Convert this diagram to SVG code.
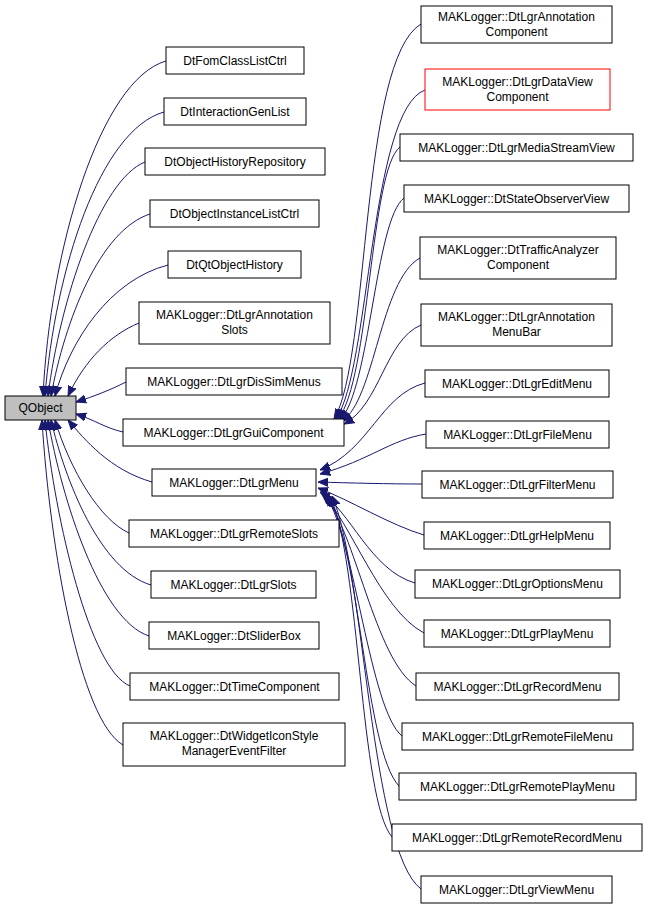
<svg xmlns="http://www.w3.org/2000/svg" width="648" height="908" viewBox="0 0 648 908">
<style>
.n rect{fill:#fff;stroke:#000;stroke-width:1}
.n text{font-family:"Liberation Sans",Arial,sans-serif;font-size:12px;text-anchor:middle;fill:#000}
#edges path{fill:none;stroke:#191970;stroke-width:1}
</style>
<defs>
<marker id="a" viewBox="0 0 10 10" refX="10" refY="5" markerWidth="10" markerHeight="10" markerUnits="userSpaceOnUse" orient="auto">
<path d="M0,1 L10,5 L0,9 Z" fill="#191970" stroke="#191970"/>
</marker>
</defs>
<rect width="648" height="908" fill="#fff"/>
<g id="edges" marker-end="url(#a)">
<path d="M166,61 C100,80 50,250 43,396"/>
<path d="M164,112 C100,130 55,270 45,396"/>
<path d="M145,162 C100,180 60,300 48,396"/>
<path d="M150,214 C100,230 65,320 51,396"/>
<path d="M168,265 C110,280 70,340 55,396"/>
<path d="M139,323 C110,335 85,360 68,396"/>
<path d="M126,382 C110,390 95,396 76,402"/>
<path d="M123,432 C105,428 95,420 76,414"/>
<path d="M152,482 C110,470 85,440 68,420"/>
<path d="M129,533 C100,520 70,470 55,420"/>
<path d="M151,585 C100,570 65,480 51,420"/>
<path d="M149,636 C100,620 62,500 48,420"/>
<path d="M130,686 C90,670 55,520 45,420"/>
<path d="M123,745 C80,720 50,550 42,420"/>
<path d="M421,24 C360,60 370,360 334,419"/>
<path d="M425,90 C370,110 370,370 336,419"/>
<path d="M400,147 C370,170 370,380 338,419"/>
<path d="M404,198 C375,220 370,390 340,420"/>
<path d="M420,258 C380,280 375,400 342,421"/>
<path d="M421,325 C385,340 380,405 344,424"/>
<path d="M425,383 C380,395 370,450 320,470"/>
<path d="M426,434 C390,440 370,460 320,474"/>
<path d="M422,484 C390,484 350,483 318,482"/>
<path d="M424,535 C390,525 350,500 318,488"/>
<path d="M415,583 C370,570 350,510 320,492"/>
<path d="M424,633 C380,610 350,520 322,494"/>
<path d="M416,686 C375,660 355,530 324,495"/>
<path d="M402,736 C370,710 355,540 326,496"/>
<path d="M399,786 C365,750 360,550 328,496"/>
<path d="M392,837 C360,800 360,560 330,496"/>
<path d="M421,889 C370,850 365,570 332,496"/>
</g>
<g id="QObject" class="n"><rect x="5" y="396" width="71" height="24" style="fill:#bfbfbf"/><text x="40.5" y="412">QObject</text></g>
<g id="m1" class="n"><rect x="166" y="47" width="138" height="27"/><text x="235" y="65">DtFomClassListCtrl</text></g>
<g id="m2" class="n"><rect x="164" y="98" width="142" height="27"/><text x="235" y="116">DtInteractionGenList</text></g>
<g id="m3" class="n"><rect x="145" y="148" width="180" height="27"/><text x="235" y="166">DtObjectHistoryRepository</text></g>
<g id="m4" class="n"><rect x="150" y="200" width="169" height="27"/><text x="234.5" y="218">DtObjectInstanceListCtrl</text></g>
<g id="m5" class="n"><rect x="168" y="251" width="133" height="27"/><text x="234.5" y="269">DtQtObjectHistory</text></g>
<g id="m6" class="n"><rect x="139" y="302" width="191" height="42"/><text x="234.5" y="319">MAKLogger::DtLgrAnnotation</text><text x="234.5" y="334">Slots</text></g>
<g id="m7" class="n"><rect x="126" y="368" width="216" height="27"/><text x="234" y="386">MAKLogger::DtLgrDisSimMenus</text></g>
<g id="m8" class="n"><rect x="123" y="419" width="221" height="27"/><text x="233.5" y="437">MAKLogger::DtLgrGuiComponent</text></g>
<g id="m9" class="n"><rect x="152" y="469" width="164" height="27"/><text x="234" y="487">MAKLogger::DtLgrMenu</text></g>
<g id="m10" class="n"><rect x="129" y="520" width="210" height="27"/><text x="234" y="538">MAKLogger::DtLgrRemoteSlots</text></g>
<g id="m11" class="n"><rect x="151" y="571" width="165" height="27"/><text x="233.5" y="589">MAKLogger::DtLgrSlots</text></g>
<g id="m12" class="n"><rect x="149" y="622" width="170" height="27"/><text x="234" y="640">MAKLogger::DtSliderBox</text></g>
<g id="m13" class="n"><rect x="130" y="673" width="209" height="27"/><text x="234.5" y="691">MAKLogger::DtTimeComponent</text></g>
<g id="m14" class="n"><rect x="123" y="723" width="222" height="43"/><text x="234" y="740">MAKLogger::DtWidgetIconStyle</text><text x="234" y="755">ManagerEventFilter</text></g>
<g id="r1" class="n"><rect x="421" y="6" width="191" height="37"/><text x="516.5" y="21">MAKLogger::DtLgrAnnotation</text><text x="516.5" y="36">Component</text></g>
<g id="r2" class="n"><rect x="425" y="69" width="185" height="41" style="stroke:#f00"/><text x="517.5" y="86">MAKLogger::DtLgrDataView</text><text x="517.5" y="101">Component</text></g>
<g id="r3" class="n"><rect x="400" y="134" width="233" height="27"/><text x="516.5" y="152">MAKLogger::DtLgrMediaStreamView</text></g>
<g id="r4" class="n"><rect x="404" y="185" width="225" height="27"/><text x="516.5" y="203">MAKLogger::DtStateObserverView</text></g>
<g id="r5" class="n"><rect x="420" y="237" width="196" height="42"/><text x="518" y="254">MAKLogger::DtTrafficAnalyzer</text><text x="518" y="269">Component</text></g>
<g id="r6" class="n"><rect x="421" y="304" width="191" height="42"/><text x="516.5" y="321">MAKLogger::DtLgrAnnotation</text><text x="516.5" y="336">MenuBar</text></g>
<g id="r7" class="n"><rect x="425" y="370" width="184" height="27"/><text x="517" y="388">MAKLogger::DtLgrEditMenu</text></g>
<g id="r8" class="n"><rect x="426" y="421" width="183" height="27"/><text x="517.5" y="439">MAKLogger::DtLgrFileMenu</text></g>
<g id="r9" class="n"><rect x="422" y="471" width="191" height="27"/><text x="517.5" y="489">MAKLogger::DtLgrFilterMenu</text></g>
<g id="r10" class="n"><rect x="424" y="522" width="186" height="27"/><text x="517" y="540">MAKLogger::DtLgrHelpMenu</text></g>
<g id="r11" class="n"><rect x="415" y="570" width="205" height="28"/><text x="517.5" y="588">MAKLogger::DtLgrOptionsMenu</text></g>
<g id="r12" class="n"><rect x="424" y="620" width="186" height="27"/><text x="517" y="638">MAKLogger::DtLgrPlayMenu</text></g>
<g id="r13" class="n"><rect x="416" y="673" width="203" height="27"/><text x="517.5" y="691">MAKLogger::DtLgrRecordMenu</text></g>
<g id="r14" class="n"><rect x="402" y="723" width="231" height="27"/><text x="517.5" y="741">MAKLogger::DtLgrRemoteFileMenu</text></g>
<g id="r15" class="n"><rect x="399" y="773" width="237" height="27"/><text x="517.5" y="791">MAKLogger::DtLgrRemotePlayMenu</text></g>
<g id="r16" class="n"><rect x="392" y="824" width="250" height="27"/><text x="517" y="842">MAKLogger::DtLgrRemoteRecordMenu</text></g>
<g id="r17" class="n"><rect x="421" y="876" width="191" height="27"/><text x="516.5" y="894">MAKLogger::DtLgrViewMenu</text></g>
</svg>
